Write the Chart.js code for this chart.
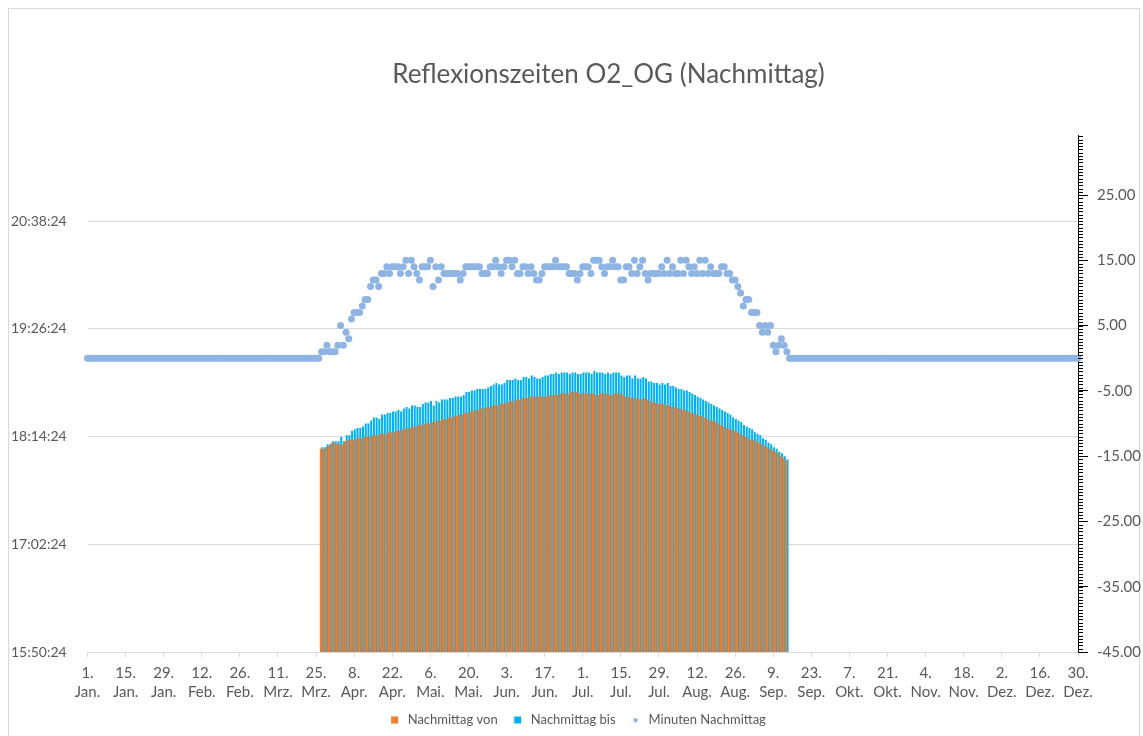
<!DOCTYPE html>
<html lang="de">
<head>
<meta charset="utf-8">
<title>Reflexionszeiten O2_OG (Nachmittag)</title>
<script src="https://cdn.jsdelivr.net/npm/chart.js@4.4.1/dist/chart.umd.min.js"></script>
<style>
	html, body { margin: 0; padding: 0; background: #ffffff; }
</style>
</head>
<body>
<canvas id="mycanvas" width="1143" height="736"></canvas>
<script>
var titel = 'Reflexionszeiten O2_OG (Nachmittag)';

// Kategorien: Tage eines Schaltjahres, 1. Jan. bis 30. Dez.
var monate = ['Jan.', 'Feb.', 'Mrz.', 'Apr.', 'Mai.', 'Jun.', 'Jul.', 'Aug.', 'Sep.', 'Okt.', 'Nov.', 'Dez.'];
var monatsTage = [31, 29, 31, 30, 31, 30, 31, 31, 30, 31, 30, 30];

// beschriftete Tage der x-Achse
var xTicks = ['1. Jan.', '15. Jan.', '29. Jan.', '12. Feb.', '26. Feb.', '11. Mrz.', '25. Mrz.', '8. Apr.', '22. Apr.',
	'6. Mai.', '20. Mai.', '3. Jun.', '17. Jun.', '1. Jul.', '15. Jul.', '29. Jul.', '12. Aug.', '26. Aug.', '9. Sep.',
	'23. Sep.', '7. Okt.', '21. Okt.', '4. Nov.', '18. Nov.', '2. Dez.', '16. Dez.', '30. Dez.'];

// linke Achse (Uhrzeit)
var yLinksMin = '15:50:24';
var yLinksMax = '21:36:00';
var yTicksLinks = ['15:50:24', '17:02:24', '18:14:24', '19:26:24', '20:38:24'];

// rechte Achse (Minuten)
var yRechtsMin = -45;
var yRechtsMax = 34.2;
var yTicksRechts = [-45, -35, -25, -15, -5, 5, 15, 25];

// Balken beginnen am 27. Mrz.
var balkenStart = '27. Mrz.';

var nachmittagVon = [
	'18:06','18:06','18:07','18:08','18:10','18:10','18:09','18:09','18:09','18:11',
	'18:12','18:12','18:12','18:13','18:13','18:13','18:14','18:14','18:14','18:15',
	'18:15','18:15','18:16','18:16','18:16','18:17','18:17','18:17','18:18','18:18',
	'18:19','18:19','18:20','18:20','18:21','18:21','18:22','18:22','18:23','18:23',
	'18:23','18:24','18:24','18:25','18:25','18:26','18:26','18:27','18:27','18:28',
	'18:28','18:29','18:29','18:30','18:30','18:31','18:31','18:32','18:32','18:33',
	'18:33','18:34','18:34','18:35','18:35','18:35','18:36','18:36','18:37','18:37',
	'18:38','18:38','18:39','18:39','18:40','18:40','18:40','18:41','18:41','18:41',
	'18:41','18:41','18:41','18:41','18:42','18:42','18:42','18:42','18:43','18:43',
	'18:43','18:43','18:44','18:44','18:44','18:43','18:43','18:43','18:43','18:43',
	'18:43','18:42','18:42','18:43','18:43','18:43','18:42','18:42','18:43','18:43',
	'18:43','18:42','18:41','18:41','18:40','18:40','18:40','18:39','18:39','18:40',
	'18:39','18:38','18:37','18:37','18:36','18:36','18:36','18:35','18:35','18:34',
	'18:34','18:33','18:33','18:32','18:32','18:31','18:30','18:30','18:29','18:28',
	'18:28','18:27','18:26','18:25','18:25','18:24','18:23','18:22','18:21','18:20',
	'18:19','18:19','18:18','18:17','18:16','18:15','18:14','18:13','18:12','18:12',
	'18:11','18:10','18:09','18:08','18:07','18:06','18:05','18:04','18:03','18:01',
	'18:00','17:58'
];

var nachmittagBis = [
	'18:07','18:07','18:09','18:09','18:11','18:11','18:11','18:14','18:11','18:15',
	'18:15','18:18','18:19','18:20','18:20','18:21','18:23','18:23','18:25','18:27',
	'18:27','18:26','18:29','18:29','18:30','18:30','18:31','18:31','18:32','18:31',
	'18:33','18:34','18:33','18:35','18:35','18:34','18:34','18:36','18:37','18:37',
	'18:38','18:35','18:38','18:37','18:39','18:39','18:39','18:40','18:40','18:41',
	'18:41','18:41','18:42','18:44','18:44','18:45','18:45','18:46','18:46','18:46',
	'18:46','18:47','18:48','18:49','18:50','18:49','18:49','18:50','18:52','18:52',
	'18:52','18:53','18:52','18:52','18:54','18:54','18:53','18:55','18:54','18:53',
	'18:53','18:54','18:55','18:55','18:56','18:56','18:57','18:56','18:57','18:57',
	'18:57','18:56','18:57','18:57','18:56','18:56','18:57','18:57','18:57','18:56',
	'18:58','18:57','18:57','18:57','18:56','18:57','18:56','18:57','18:57','18:57',
	'18:55','18:54','18:55','18:55','18:53','18:55','18:53','18:53','18:54','18:53',
	'18:51','18:51','18:50','18:50','18:49','18:50','18:49','18:50','18:48','18:48',
	'18:47','18:46','18:46','18:45','18:45','18:44','18:43','18:42','18:41','18:40',
	'18:39','18:38','18:37','18:36','18:35','18:34','18:33','18:32','18:31','18:30',
	'18:29','18:27','18:26','18:25','18:24','18:22','18:21','18:20','18:19','18:17',
	'18:16','18:15','18:13','18:12','18:10','18:09','18:07','18:06','18:04','18:03',
	'18:01','17:59'
];

// Minuten Nachmittag, ein Wert je Tag (1. Jan. bis 30. Dez.)
var minutenNachmittag = [
	0,0,0,0,0,0,0,0,0,0,
	0,0,0,0,0,0,0,0,0,0,
	0,0,0,0,0,0,0,0,0,0,
	0,0,0,0,0,0,0,0,0,0,
	0,0,0,0,0,0,0,0,0,0,
	0,0,0,0,0,0,0,0,0,0,
	0,0,0,0,0,0,0,0,0,0,
	0,0,0,0,0,0,0,0,0,0,
	0,0,0,0,0,0,1,1,2,1,
	1,1,2,5,2,4,3,6,7,7,
	7,8,9,9,11,12,12,11,13,13,
	14,13,14,14,14,13,14,15,13,15,
	14,13,12,14,14,14,15,11,14,12,
	14,13,13,13,13,13,13,12,13,14,
	14,14,14,14,14,13,13,13,14,14,
	15,14,13,14,15,15,14,15,13,13,
	14,14,13,14,13,12,12,13,14,14,
	14,14,15,14,14,14,14,13,13,13,
	12,13,14,14,14,13,15,15,15,14,
	13,14,14,15,14,14,12,12,14,14,
	13,15,13,14,15,13,12,13,13,13,
	13,14,13,15,13,14,13,13,15,13,
	15,14,13,14,13,15,13,15,13,14,
	13,13,13,14,14,13,13,12,12,11,
	10,8,9,9,7,7,7,5,4,5,
	4,5,2,1,2,3,2,1,0,0,
	0,0,0,0,0,0,0,0,0,0,
	0,0,0,0,0,0,0,0,0,0,
	0,0,0,0,0,0,0,0,0,0,
	0,0,0,0,0,0,0,0,0,0,
	0,0,0,0,0,0,0,0,0,0,
	0,0,0,0,0,0,0,0,0,0,
	0,0,0,0,0,0,0,0,0,0,
	0,0,0,0,0,0,0,0,0,0,
	0,0,0,0,0,0,0,0,0,0,
	0,0,0,0,0,0,0,0,0,0,
	0,0,0,0,0
];

function zeitZuTag(t) {
	var p = t.split(':');
	var s = parseInt(p[0], 10) * 3600 + parseInt(p[1], 10) * 60 + (p[2] ? parseInt(p[2], 10) : 0);
	return s / 86400;
}

function tagZuZeit(v) {
	var s = Math.round(v * 86400);
	var h = Math.floor(s / 3600), m = Math.floor((s % 3600) / 60), sek = s % 60;
	return h + ':' + (m < 10 ? '0' : '') + m + ':' + (sek < 10 ? '0' : '') + sek;
}

var kategorien = [];
for (var mo = 0; mo < monate.length; mo++) {
	for (var t = 1; t <= monatsTage[mo]; t++) {
		kategorien.push(t + '. ' + monate[mo]);
	}
}

var startIndex = kategorien.indexOf(balkenStart);
var vonWerte = [];
var bisWerte = [];
for (var i = 0; i < kategorien.length; i++) {
	var j = i - startIndex;
	if (j >= 0 && j < nachmittagVon.length) {
		vonWerte.push(zeitZuTag(nachmittagVon[j]));
		bisWerte.push(zeitZuTag(nachmittagBis[j]));
	} else {
		vonWerte.push(null);
		bisWerte.push(null);
	}
}

// kleiner Punkt fuer den Legendeneintrag
var punktBild = document.createElement('canvas');
punktBild.width = 5;
punktBild.height = 5;
var pctx = punktBild.getContext('2d');
pctx.fillStyle = '#8EB4E3';
pctx.beginPath();
pctx.arc(2.5, 2.5, 2.2, 0, Math.PI * 2);
pctx.fill();

Chart.defaults.font.family = 'Lato, "Open Sans", sans-serif';
Chart.defaults.color = '#595959';

var extras = {
	id: 'extras',
	afterInit: function(chart) {
		var lg = chart.legend;
		var fit = lg.fit;
		lg.fit = function() {
			fit.call(lg);
			lg.height = 36;
		};
	},
	beforeDraw: function(chart) {
		var c = chart.ctx;
		c.save();
		c.strokeStyle = '#D9D9D9';
		c.lineWidth = 1;
		c.strokeRect(8.5, 8.5, 1131, 740);
		c.restore();
	},
	afterDraw: function(chart) {
		var c = chart.ctx;
		c.save();
		c.fillStyle = '#595959';
		c.font = '400 26px Lato, "Open Sans", sans-serif';
		c.textAlign = 'center';
		c.textBaseline = 'alphabetic';
		c.fillText(titel, 608.5, 83);

		// Hilfsstriche der rechten Achse
		var s = chart.scales.y1;
		c.strokeStyle = '#000000';
		c.lineWidth = 1;
		c.beginPath();
		for (var k = 0; k <= 158; k++) {
			var y = Math.round(s.getPixelForValue(yRechtsMin + k * 0.5)) + 0.5;
			c.moveTo(s.left, y);
			c.lineTo(s.left + 5, y);
		}
		c.stroke();
		c.restore();
	}
};

var ctx = document.getElementById('mycanvas');

var chart = new Chart(ctx, {
	type: 'bar',
	data: {
		labels: kategorien,
		datasets: [
			{
				label: 'Nachmittag von',
				data: vonWerte,
				backgroundColor: '#ED7D31',
				borderWidth: 0,
				categoryPercentage: 1,
				barPercentage: 1,
				yAxisID: 'y'
			},
			{
				label: 'Nachmittag bis',
				data: bisWerte,
				backgroundColor: '#00B0F0',
				borderWidth: 0,
				categoryPercentage: 1,
				barPercentage: 1,
				yAxisID: 'y'
			},
			{
				type: 'line',
				label: 'Minuten Nachmittag',
				data: minutenNachmittag,
				showLine: false,
				pointRadius: 3.5,
				pointHoverRadius: 3.5,
				pointBorderWidth: 0,
				pointBackgroundColor: '#8EB4E3',
				backgroundColor: '#8EB4E3',
				borderColor: '#8EB4E3',
				yAxisID: 'y1'
			}
		]
	},
	options: {
		responsive: false,
		animation: false,
		layout: { padding: { left: 11, right: 0, top: 135, bottom: 0 } },
		scales: {
			x: {
				offset: false,
				grid: { offset: false, drawOnChartArea: false, drawTicks: true, tickLength: 5, color: '#D9D9D9' },
				border: { color: '#D9D9D9' },
				ticks: {
					autoSkip: false,
					maxRotation: 0,
					minRotation: 0,
					padding: 6,
					font: { size: 15, lineHeight: 1.3 },
					callback: function(val, idx) {
						var l = kategorien[idx];
						return xTicks.indexOf(l) >= 0 ? l.split(' ') : null;
					}
				},
				afterFit: function(s) { s.height = 48; }
			},
			y: {
				position: 'left',
				min: zeitZuTag(yLinksMin),
				max: zeitZuTag(yLinksMax),
				afterBuildTicks: function(s) {
					s.ticks = yTicksLinks.map(function(t) { return { value: zeitZuTag(t) }; });
				},
				grid: { color: '#D9D9D9', drawTicks: false },
				border: { display: false },
				ticks: {
					crossAlign: 'far',
					font: { size: 14 },
					callback: function(v) { return tagZuZeit(v); }
				},
				afterFit: function(s) { s.width = 76.5; }
			},
			y1: {
				position: 'right',
				min: yRechtsMin,
				max: yRechtsMax,
				afterBuildTicks: function(s) {
					s.ticks = yTicksRechts.map(function(v) { return { value: v }; });
				},
				grid: { drawOnChartArea: false, tickLength: 10, color: '#000000' },
				border: { color: '#000000' },
				ticks: {
					padding: 9,
					font: { size: 15 },
					callback: function(v) { return v.toFixed(2); }
				},
				afterFit: function(s) { s.width = 65; }
			}
		},
		plugins: {
			title: { display: false },
			tooltip: { enabled: false },
			legend: {
				position: 'bottom',
				labels: {
					usePointStyle: true,
					boxHeight: 7,
					padding: 13.5,
					color: '#595959',
					font: { size: 13 },
					generateLabels: function(chart) {
						var items = Chart.defaults.plugins.legend.labels.generateLabels(chart);
						items[0].pointStyle = 'rect';
						items[1].pointStyle = 'rect';
						items[0].lineWidth = 0;
						items[1].lineWidth = 0;
						items[2].pointStyle = punktBild;
						return items;
					}
				}
			}
		}
	},
	plugins: [extras]
});
</script>
</body>
</html>
